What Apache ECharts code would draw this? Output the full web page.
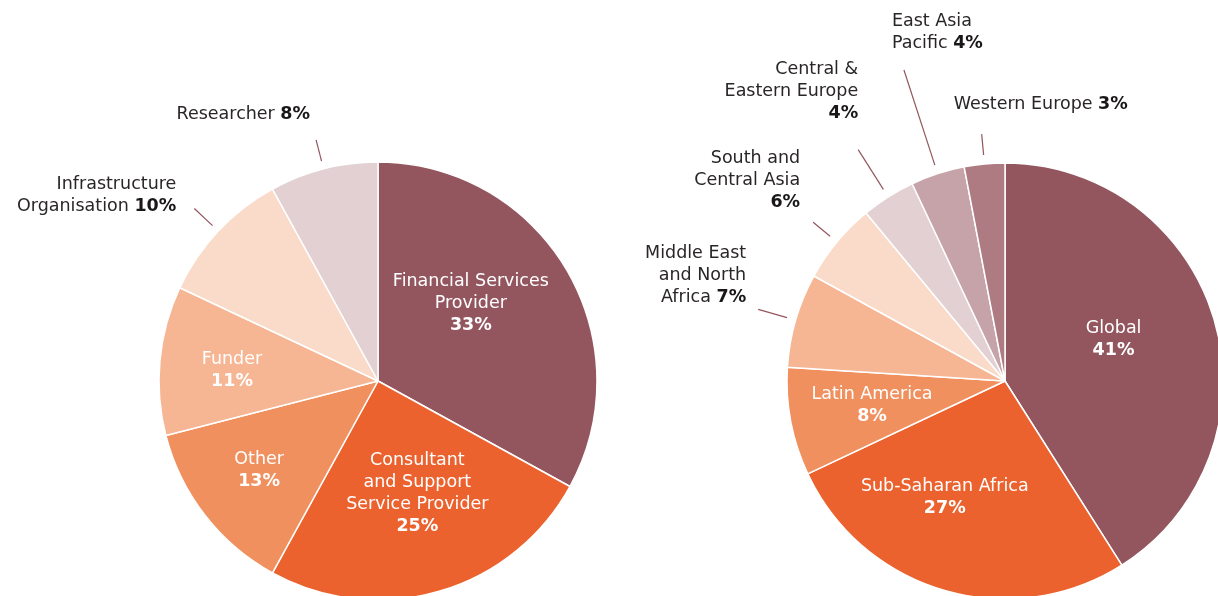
<!DOCTYPE html>
<html>
<head>
<meta charset="utf-8">
<script src="https://cdn.jsdelivr.net/npm/echarts@6/dist/echarts.min.js"></script>
<style>
html,body{margin:0;padding:0;background:#fff;}
#c{width:1218px;height:596px;}
</style>
</head>
<body>
<div id="c"></div>
<script>
// ---- Data ----
const leftNames = ['Financial Services\nProvider', 'Consultant\nand Support\nService Provider', 'Other', 'Funder', 'Infrastructure\nOrganisation', 'Researcher'];
const leftValues = [33, 25, 13, 11, 10, 8];
const rightNames = ['Global', 'Sub-Saharan Africa', 'Latin America', 'Middle East\nand North\nAfrica', 'South and\nCentral Asia', 'Central &\nEastern Europe', 'East Asia\nPacific', 'Western Europe'];
const rightValues = [41, 27, 8, 7, 6, 4, 4, 3];

// ---- Styles ----
const leftColors = ['#93565F', '#EB622E', '#F0905E', '#F6B593', '#FADAC8', '#E2D0D3'];
const rightColors = ['#93565F', '#EB622E', '#F0905E', '#F6B593', '#FADAC8', '#E2D0D3', '#C6A3A9', '#AE7B83'];
const FONT = 'DejaVu Sans';
const lineColor = '#93565F';

// label placement: 'in' = inside slice, 'out' = outside with leader line
const leftPlace = ['in', 'in', 'in', 'in', 'out', 'out'];
const rightPlace = ['in', 'in', 'in', 'out', 'out', 'out', 'out', 'out'];
// whether the percentage sits on its own line
const leftPctOwnLine = [true, true, true, true, false, false];
const rightPctOwnLine = [true, true, true, false, true, true, false, false];
// leader line lengths for outside labels
const leftLineLen = [0, 0, 0, 0, 25, 22];
const rightLineLen = [0, 0, 0, 30, 22, 47, 100, 21];
// label fine offsets [dx, dy, align]
const leftOffsets = [[-4, -20], [8, 4], [-30, 21], [-34, 0], [-13, -13], [-1, -25]];
const rightOffsets = [[1, -10], [-29, 9], [-23, 3], [-7, -34], [-8, -42], [5, -58], [-7, -38, 'left'], [-23, -30, 'left']];

function labelText(name, value, ownLine, inside) {
  const n = inside ? 'w' : 'd';
  const b = inside ? 'wb' : 'db';
  const lines = name.split('\n');
  if (ownLine) {
    return lines.map(l => '{' + n + '|' + l + '}').join('\n') + '\n{' + b + '|' + value + '%}';
  }
  const last = lines.pop();
  const head = lines.map(l => '{' + n + '|' + l + '}');
  head.push('{' + n + '|' + last + ' }{' + b + '|' + value + '%}');
  return head.join('\n');
}

const FS = 17.5;
const rich = {
  w: { color: '#ffffff', fontFamily: FONT, fontSize: FS, fontWeight: 'normal', lineHeight: 22 },
  wb: { color: '#ffffff', fontFamily: FONT, fontSize: FS, fontWeight: 'bold', lineHeight: 22 },
  d: { color: '#2a2627', fontFamily: FONT, fontSize: FS, fontWeight: 'normal', lineHeight: 22 },
  db: { color: '#1a1718', fontFamily: FONT, fontSize: FS, fontWeight: 'bold', lineHeight: 22 }
};

function mainPie(center, radius, names, values, colors, place, ownLine, offsets) {
  return {
    type: 'pie', center: center, radius: [0, radius], startAngle: 90, clockwise: true,
    avoidLabelOverlap: false, silent: true, animation: false,
    itemStyle: { borderColor: '#ffffff', borderWidth: 1.5 },
    labelLine: { show: false },
    data: values.map((v, i) => ({
      name: names[i], value: v,
      itemStyle: { color: colors[i] },
      label: {
        show: place[i] === 'in', position: 'inside',
        formatter: labelText(names[i], v, ownLine[i], true), rich: rich
      }
    })),
    labelLayout: function (p) {
      const o = offsets[p.dataIndex];
      return { dx: o[0], dy: o[1] };
    }
  };
}

function overlayPie(center, radius, names, values, place, ownLine, lineLen, offsets) {
  return {
    type: 'pie', center: center, radius: [0, radius], startAngle: 90, clockwise: true,
    avoidLabelOverlap: false, silent: true, animation: false, z: 5,
    itemStyle: { color: 'rgba(0,0,0,0)', borderWidth: 0 },
    data: values.map((v, i) => ({
      name: names[i], value: v,
      label: {
        show: place[i] === 'out', position: 'outside', distanceToLabelLine: 5,
        formatter: labelText(names[i], v, ownLine[i], false), rich: rich
      },
      labelLine: {
        show: place[i] === 'out', length: lineLen[i], length2: 0, smooth: false,
        lineStyle: { color: lineColor, width: 1.2 }
      }
    })),
    labelLayout: function (p) {
      const o = offsets[p.dataIndex];
      const r = { dx: o[0], dy: o[1] };
      if (o[2]) r.align = o[2];
      return r;
    }
  };
}

const chart = echarts.init(document.getElementById('c'), null, { renderer: 'canvas' });
chart.setOption({
  backgroundColor: '#ffffff',
  animation: false,
  series: [
    mainPie([378, 381], 219, leftNames, leftValues, leftColors, leftPlace, leftPctOwnLine, leftOffsets),
    overlayPie([378, 381], 227, leftNames, leftValues, leftPlace, leftPctOwnLine, leftLineLen, leftOffsets),
    mainPie([1005, 381], 218, rightNames, rightValues, rightColors, rightPlace, rightPctOwnLine, rightOffsets),
    overlayPie([1005, 381], 227, rightNames, rightValues, rightPlace, rightPctOwnLine, rightLineLen, rightOffsets)
  ]
});
</script>
</body>
</html>
